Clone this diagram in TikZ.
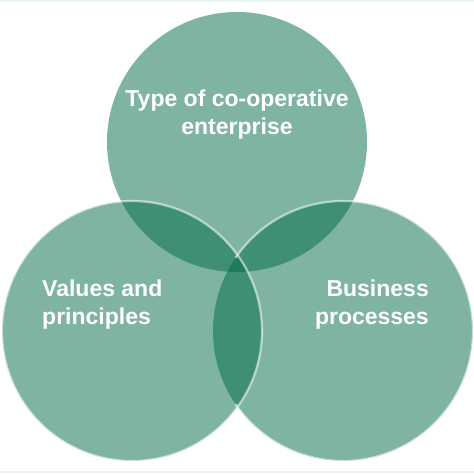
\documentclass[tikz,border=0pt]{standalone}
\usepackage{fontspec}
\setmainfont{Liberation Sans}
\begin{document}
\begin{tikzpicture}[x=1pt,y=1pt,
  disc/.style={fill=vgreen,fill opacity=0.5},
  rim/.style={draw=white,draw opacity=0.55,line width=2.2pt},
  lbl/.style={text=white,font=\fontsize{23}{28}\selectfont\bfseries,inner sep=0pt}]
\definecolor{vgreen}{RGB}{0,107,69}
\definecolor{mint}{RGB}{228,244,238}
\useasboundingbox (0,0) rectangle (474,474);
\fill[white] (0,0) rectangle (474,474);
\draw[mint,line width=2pt] (0,473) -- (474,473);
\draw[mint,line width=2pt] (0,1.5) -- (474,1.5);
\coordinate (ct) at (237,332);
\coordinate (cl) at (132,143);
\coordinate (cr) at (343,143);
\fill[disc] (ct) circle (130);
\fill[disc] (cr) circle (130);
\fill[disc] (cl) circle (130);
\draw[rim] ([shift={(145.8:130)}]cr) arc[start angle=145.8,end angle=-145.8,radius=130];
\draw[rim] (cl) circle (130);
\node[lbl,align=center,anchor=base] (t) at (237,339) {Type of co-operative\\enterprise};
\node[lbl,align=left,anchor=base west] (v) at (42,149) {Values and\\principles};
\node[lbl,align=right,anchor=base east] (b) at (429,149) {Business\\processes};
\end{tikzpicture}
\end{document}
